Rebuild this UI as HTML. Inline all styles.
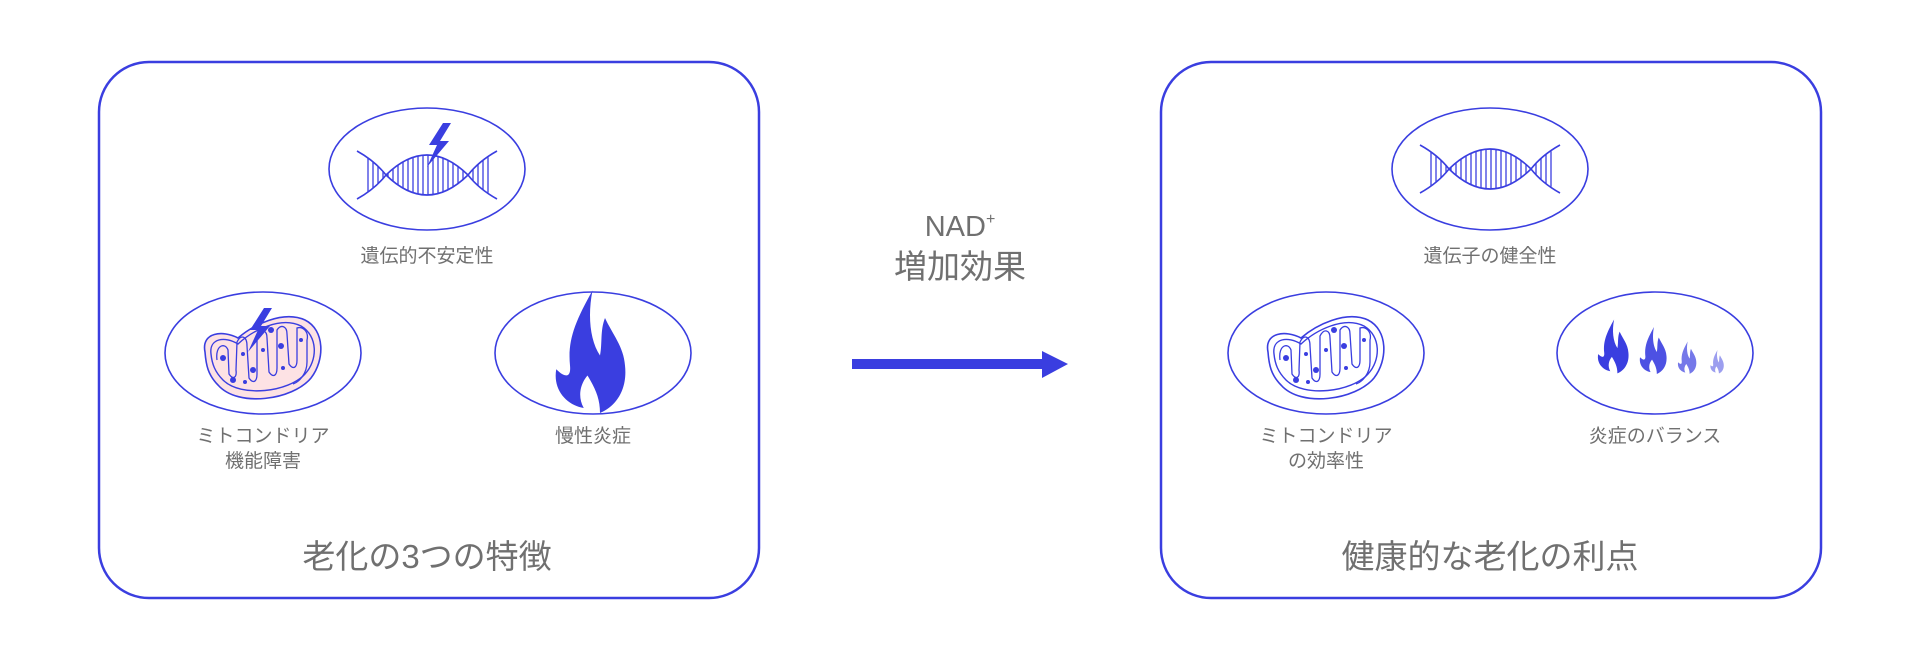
<!DOCTYPE html>
<html><head><meta charset="utf-8"><style>
html,body{margin:0;padding:0;background:#fff;}
svg{display:block;}
text{font-family:"Liberation Sans","Noto Sans CJK JP",sans-serif;fill:#707070;text-anchor:middle;}
</style></head><body>
<svg width="1920" height="660" viewBox="0 0 1920 660" xmlns="http://www.w3.org/2000/svg">
<defs>
<pattern id="hatch" width="5" height="10" patternUnits="userSpaceOnUse">
<line x1="1" y1="0" x2="1" y2="10" stroke="#3a3ee0" stroke-width="1.3"/>
</pattern>
<g id="dna">
<path d="M-62,-18 Q-52,-14 -41,0 Q0,40 41,0 Q52,-14 62,-18 L62,18 Q52,14 41,0 Q0,-40 -41,0 Q-52,14 -62,18 Z" fill="url(#hatch)" stroke="none"/>
<path d="M-70,-24 Q-52,-14 -41,0 Q0,40 41,0 Q52,-14 70,-24" fill="none" stroke="#3a3ee0" stroke-width="1.6"/>
<path d="M-70,24 Q-52,14 -41,0 Q0,-40 41,0 Q52,14 70,24" fill="none" stroke="#3a3ee0" stroke-width="1.6"/>
</g>
<g id="flame">
<path d="M2,-50 C-12,-25 -18,-10 -16,10 C-15,20 -20,20 -27,13 C-30,30 -18,42 -5,44 C-10,35 -8,25 -2,18 C4,28 8,36 8,48 C22,42 30,28 28,10 C27,-5 18,-15 12,-28 C8,-18 10,-8 8,2 C0,-10 -2,-30 2,-50 Z" fill="#3a3ee0"/>
</g>
<g id="mito">
<path d="M-58,-8 C-62,-28 -40,-30 -25,-22 C-10,-35 20,-50 42,-40 C62,-30 62,0 48,18 C30,40 -25,48 -45,25 C-55,15 -57,5 -58,-8 Z" fill="none" stroke="#3a3ee0" stroke-width="1.6"/>
<path d="M-52,-6 C-54,-22 -38,-24 -25,-16 C-10,-30 18,-44 38,-34 C55,-24 55,0 42,14 C26,32 -22,38 -40,20 C-48,12 -51,4 -52,-6 Z" fill="none" stroke="#3a3ee0" stroke-width="1.4"/>
<path d="M-46,0 C-48,-15 -38,-18 -35,-10 L-34,14 C-30,20 -26,18 -27,10 L-26,-18 C-22,-26 -16,-24 -16,-14 L-14,18 C-10,24 -6,22 -6,14 L-6,-24 C-2,-32 4,-30 4,-22 L6,12 C10,18 14,16 14,8 L14,-30 C18,-36 24,-34 24,-26 L26,4 C30,10 34,8 34,0 L34,-32 C40,-34 46,-28 44,-20 L44,2 C44,14 36,22 30,24" fill="none" stroke="#3a3ee0" stroke-width="1.3"/>
<circle cx="-40" cy="-2" r="3" fill="#3a3ee0"/><circle cx="-20" cy="-6" r="2" fill="#3a3ee0"/>
<circle cx="-10" cy="10" r="3" fill="#3a3ee0"/><circle cx="0" cy="-10" r="2" fill="#3a3ee0"/>
<circle cx="18" cy="-14" r="3" fill="#3a3ee0"/><circle cx="20" cy="8" r="2" fill="#3a3ee0"/>
<circle cx="38" cy="-20" r="2" fill="#3a3ee0"/><circle cx="-30" cy="20" r="3" fill="#3a3ee0"/>
<circle cx="8" cy="-30" r="3" fill="#3a3ee0"/><circle cx="-18" cy="22" r="2" fill="#3a3ee0"/>
</g>
<path id="bolt" d="M6,-22 L-8,0 L0,0 L-10,22 L12,-4 L3,-4 L14,-22 Z" fill="#3a3ee0"/>
</defs>

<!-- Left box -->
<rect x="99" y="62" width="660" height="536" rx="50" fill="none" stroke="#3a3ee0" stroke-width="2.5"/>
<ellipse cx="427" cy="169" rx="98" ry="61" fill="none" stroke="#3a3ee0" stroke-width="1.6"/>
<use href="#dna" x="427" y="175"/>
<use href="#bolt" x="437" y="145"/>
<text x="427" y="262" font-size="19">遺伝的不安定性</text>

<ellipse cx="263" cy="353" rx="98" ry="61" fill="none" stroke="#3a3ee0" stroke-width="1.6"/>
<path d="M-58,-8 C-62,-28 -40,-30 -25,-22 C-10,-35 20,-50 42,-40 C62,-30 62,0 48,18 C30,40 -25,48 -45,25 C-55,15 -57,5 -58,-8 Z" transform="translate(263,360)" fill="#fde2e4"/>
<use href="#mito" x="263" y="360"/>
<use href="#bolt" x="258" y="330"/>
<text x="263" y="442" font-size="19">ミトコンドリア</text>
<text x="263" y="467" font-size="19">機能障害</text>

<ellipse cx="593" cy="353" rx="98" ry="61" fill="none" stroke="#3a3ee0" stroke-width="1.6"/>
<use href="#flame" transform="translate(590,353) scale(1.25)"/>
<text x="593" y="442" font-size="19">慢性炎症</text>

<text x="427" y="568" font-size="33">老化の3つの特徴</text>

<!-- middle -->
<text x="960" y="236" font-size="29" fill="#666" style="fill:#707070">NAD<tspan font-size="16" dy="-12">+</tspan></text>
<text x="960" y="278" font-size="33">増加効果</text>
<rect x="852" y="359" width="195" height="10" fill="#3a3ee0"/>
<path d="M1042,351 L1068,364 L1042,378 Z" fill="#3a3ee0"/>

<!-- Right box -->
<rect x="1161" y="62" width="660" height="536" rx="50" fill="none" stroke="#3a3ee0" stroke-width="2.5"/>
<ellipse cx="1490" cy="169" rx="98" ry="61" fill="none" stroke="#3a3ee0" stroke-width="1.6"/>
<use href="#dna" x="1490" y="169"/>
<text x="1490" y="262" font-size="19">遺伝子の健全性</text>

<ellipse cx="1326" cy="353" rx="98" ry="61" fill="none" stroke="#3a3ee0" stroke-width="1.6"/>
<use href="#mito" x="1326" y="360"/>
<text x="1326" y="442" font-size="19">ミトコンドリア</text>
<text x="1326" y="467" font-size="19">の効率性</text>

<ellipse cx="1655" cy="353" rx="98" ry="61" fill="none" stroke="#3a3ee0" stroke-width="1.6"/>
<g transform="translate(1613,347) scale(0.55)"><use href="#flame"/></g>
<g transform="translate(1653,351) scale(0.48)" opacity="0.9"><use href="#flame"/></g>
<g transform="translate(1687,358) scale(0.33)" opacity="0.7"><use href="#flame"/></g>
<g transform="translate(1717,362) scale(0.24)" opacity="0.5"><use href="#flame"/></g>
<text x="1655" y="442" font-size="19">炎症のバランス</text>

<text x="1490" y="568" font-size="33">健康的な老化の利点</text>
</svg>
</body></html>
